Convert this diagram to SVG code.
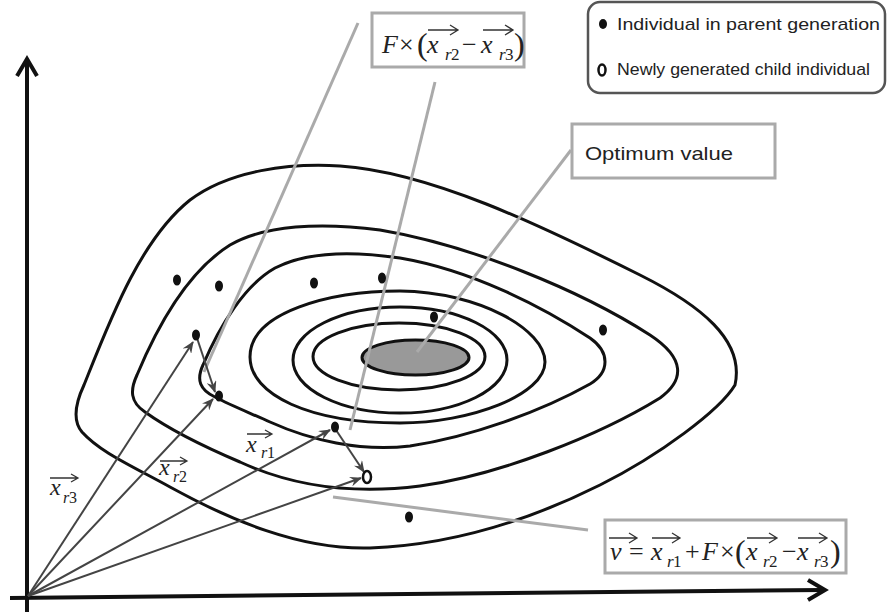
<svg xmlns="http://www.w3.org/2000/svg" width="888" height="615" viewBox="0 0 888 615">
<style>
.ax{fill:none;stroke:#111;stroke-width:4;stroke-linejoin:miter}
.ct{fill:none;stroke:#111;stroke-width:3}
.vec{fill:none;stroke:#444;stroke-width:2}
.ld{fill:none;stroke:#aaa;stroke-width:3}
.box{fill:#fff;stroke:#aaa;stroke-width:3}
.dot{fill:#111}
.m{font-family:"Liberation Serif","Times New Roman",serif;font-size:26px;fill:#222}
.mi{font-style:italic}
.sub{font-size:17px}
.ps{font-family:"Liberation Serif","Times New Roman",serif;font-size:24px;fill:#222}
.ps2{font-family:"Liberation Serif","Times New Roman",serif;font-size:16px;fill:#222}
.ov{fill:none;stroke:#333;stroke-width:1.3}
.t{font-family:"Liberation Sans",Arial,sans-serif;fill:#222}
</style>
<defs>
<marker id="ah" viewBox="0 0 12 10" refX="11" refY="5" markerWidth="12" markerHeight="10" markerUnits="userSpaceOnUse" orient="auto">
<path d="M0,0 L12,5 L0,10 L4,5 Z" fill="#444"/>
</marker>
</defs>

<g id="axes">
<polyline class="ax" points="27,612 27,60"/>
<polyline class="ax" points="17,76 27,59 37,76"/>
<polyline class="ax" points="10,598 823,590"/>
<polyline class="ax" points="808,580 825,590 808,600"/>
</g>

<g id="contours">
<path class="ct" d="M82,432 C72,420 76,402 84,385 C110,320 140,240 190,200 C230,170 290,163 340,166 C430,172 540,225 640,275 C700,305 745,340 735,385 C720,410 660,455 600,485 C530,520 450,545 370,548 C300,550 230,520 170,487 C130,465 100,452 82,432 Z"/>
<path class="ct" d="M145,412 C130,402 130,390 137,375 C160,320 190,270 230,245 C265,225 320,222 380,230 C470,245 580,290 650,335 C685,358 685,380 660,398 C600,435 500,475 420,486 C350,495 290,485 240,462 C200,445 170,430 145,412 Z"/>
<path class="ct" d="M215,397 C200,390 196,380 203,365 C220,325 245,285 275,268 C310,250 360,252 400,258 C470,270 540,305 590,338 C610,352 610,372 590,384 C540,412 470,437 410,446 C360,452 310,440 270,422 C250,413 230,405 215,397 Z"/>
<path class="ct" d="M250,357 C250,312 330,291 400,291 C480,292 545,330 545,362 C545,395 470,423 400,423 C310,423 250,395 250,357 Z"/>
<ellipse class="ct" cx="400" cy="360" rx="107" ry="53"/>
<ellipse class="ct" cx="399" cy="356.5" rx="86" ry="33.5"/>
<ellipse id="optimum" cx="415.5" cy="357.5" rx="53.5" ry="17.5" fill="#999" stroke="#111" stroke-width="3"/>
</g>

<g id="leaders">
<line class="ld" x1="358" y1="23" x2="204" y2="372"/>
<line class="ld" x1="435" y1="82" x2="350" y2="430"/>
<line class="ld" x1="571" y1="150" x2="417" y2="352"/>
<line class="ld" x1="333" y1="497" x2="588" y2="530"/>
</g>

<g id="connectors">
<line class="vec" x1="28" y1="596" x2="193" y2="342" marker-end="url(#ah)"/>
<line class="vec" x1="28" y1="596" x2="213" y2="399" marker-end="url(#ah)"/>
<line class="vec" x1="28" y1="596" x2="330" y2="430" marker-end="url(#ah)"/>
<line class="vec" x1="28" y1="596" x2="361" y2="478" marker-end="url(#ah)"/>
<line class="vec" x1="197" y1="338" x2="215" y2="392" marker-end="url(#ah)"/>
<line class="vec" x1="336" y1="430" x2="364" y2="472" marker-end="url(#ah)"/>
</g>

<g id="parents">
<ellipse class="dot" cx="177" cy="280" rx="4" ry="5.5"/>
<ellipse class="dot" cx="219" cy="286" rx="4" ry="5.5"/>
<ellipse class="dot" cx="314" cy="283" rx="4" ry="5.5"/>
<ellipse class="dot" cx="382" cy="278" rx="4" ry="5.5"/>
<ellipse class="dot" cx="434" cy="317" rx="4" ry="5.5"/>
<ellipse class="dot" cx="603" cy="330" rx="4" ry="5.5"/>
<ellipse class="dot" cx="409" cy="517" rx="4" ry="5.5"/>
<ellipse id="xr3" class="dot" cx="196" cy="335" rx="4" ry="5.5"/>
<ellipse id="xr2" class="dot" cx="219" cy="396" rx="4" ry="5.5"/>
<ellipse id="xr1" class="dot" cx="335" cy="427" rx="4" ry="5.5"/>
</g>
<g id="child">
<ellipse cx="367" cy="477" rx="4" ry="6" fill="#fff" stroke="#111" stroke-width="2.5"/>
</g>

<g id="label-xr3">
<text class="ps mi" x="50" y="495">x</text>
<text class="ps2 mi" x="63" y="503">r</text><text class="ps2" x="69" y="503">3</text>
<path class="ov" d="M50,478 H78 M71,474 L78,478 L71,482"/>
</g>
<g id="label-xr2">
<text class="ps mi" x="159" y="475">x</text>
<text class="ps2 mi" x="173" y="482">r</text><text class="ps2" x="179" y="482">2</text>
<path class="ov" d="M160,461 H187 M180,457 L187,461 L180,465"/>
</g>
<g id="label-xr1">
<text class="ps mi" x="246" y="452">x</text>
<text class="ps2 mi" x="261" y="458">r</text><text class="ps2" x="267" y="458">1</text>
<path class="ov" d="M247,434 H272 M265,430 L272,434 L265,438"/>
</g>

<g id="box-diff">
<rect class="box" x="372" y="13" width="152" height="54"/>
<text class="m mi" x="382" y="53">F</text>
<text class="m" x="399" y="53">×</text>
<text class="m" x="417" y="55" style="font-size:32px">(</text>
<text class="m mi" x="427" y="53">x</text>
<text class="m mi sub" x="445" y="60">r</text><text class="m sub" x="451" y="60">2</text>
<text class="m" x="462" y="53">−</text>
<text class="m mi" x="481" y="53">x</text>
<text class="m mi sub" x="499" y="60">r</text><text class="m sub" x="505" y="60">3</text>
<text class="m" x="514" y="55" style="font-size:32px">)</text>
<path class="ov" d="M428,30 H458 M450,25 L458,30 L450,35 M483,30 H513 M505,25 L513,30 L505,35"/>
</g>

<g id="box-optimum">
<rect class="box" x="572" y="124" width="203" height="54"/>
<text class="t" x="585" y="160" font-size="19" textLength="148" lengthAdjust="spacingAndGlyphs">Optimum value</text>
</g>

<g id="box-mutant">
<rect class="box" x="605" y="520" width="241" height="53"/>
<text class="m mi" x="610" y="560">v</text>
<text class="m" x="629" y="560">=</text>
<text class="m mi" x="651" y="560">x</text>
<text class="m mi sub" x="667" y="567">r</text><text class="m sub" x="673" y="567">1</text>
<text class="m" x="685" y="560">+</text>
<text class="m mi" x="702" y="560">F</text>
<text class="m" x="720" y="560">×</text>
<text class="m" x="735" y="562" style="font-size:32px">(</text>
<text class="m mi" x="746" y="560">x</text>
<text class="m mi sub" x="763" y="567">r</text><text class="m sub" x="769" y="567">2</text>
<text class="m" x="782" y="560">−</text>
<text class="m mi" x="797" y="560">x</text>
<text class="m mi sub" x="814" y="567">r</text><text class="m sub" x="820" y="567">3</text>
<text class="m" x="830" y="562" style="font-size:32px">)</text>
<path class="ov" d="M609,538 H637 M629,533 L637,538 L629,543 M652,538 H680 M672,533 L680,538 L672,543 M747,538 H777 M769,533 L777,538 L769,543 M798,538 H827 M819,533 L827,538 L819,543"/>
</g>

<g id="legend">
<rect x="588" y="2" width="297" height="91" rx="12" fill="#fff" stroke="#555" stroke-width="2.5"/>
<ellipse class="dot" cx="603" cy="24" rx="4" ry="5"/>
<text class="t" x="617" y="30" font-size="17" textLength="263" lengthAdjust="spacingAndGlyphs">Individual in parent generation</text>
<ellipse cx="602" cy="70" rx="3.5" ry="5.5" fill="#fff" stroke="#111" stroke-width="2.5"/>
<text class="t" x="617" y="75" font-size="17" textLength="253" lengthAdjust="spacingAndGlyphs">Newly generated child individual</text>
</g>
</svg>
